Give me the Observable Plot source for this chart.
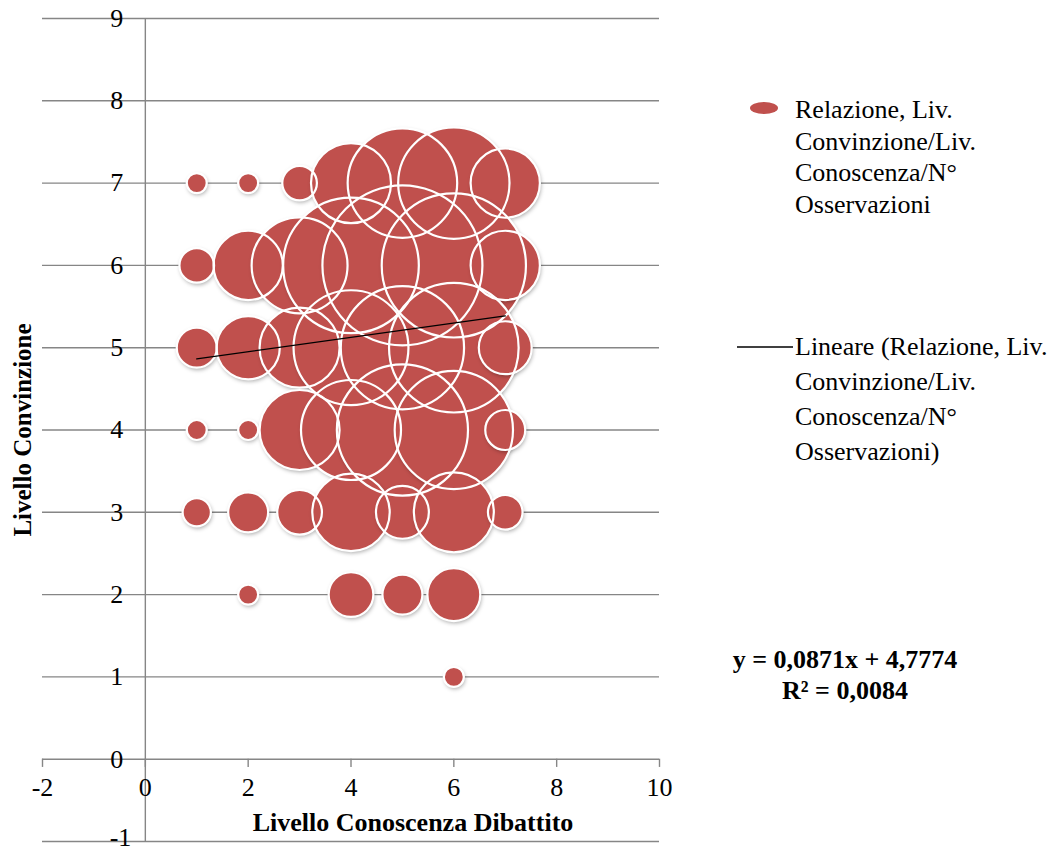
<!DOCTYPE html>
<html>
<head>
<meta charset="utf-8">
<script src="https://cdn.jsdelivr.net/npm/d3@7"></script>
<script src="https://cdn.jsdelivr.net/npm/@observablehq/plot@0.6"></script>
<style>
  html, body { margin: 0; padding: 0; background: #fff; }
  #wrap { position: relative; width: 1058px; height: 852px; font-family: "Liberation Serif", "Times New Roman", serif; color: #000; }
  #chart { position: absolute; left: 0; top: 0; }
  g[aria-label="dot"].fills circle { filter: drop-shadow(1px 2px 2px rgba(0,0,0,0.35)); }
  .leg { position: absolute; font-size: 26px; white-space: nowrap; }
  .eq { position: absolute; font-size: 26px; font-weight: bold; text-align: center; white-space: nowrap; }
</style>
</head>
<body>
<div id="wrap">
  <div id="chart"></div>
  <svg style="position:absolute;left:748px;top:100px" width="32" height="16"><ellipse cx="16" cy="8" rx="14" ry="6" fill="#c0504d"/></svg>
  <div class="leg" style="left:795px;top:94px;line-height:31.5px">Relazione, Liv.<br>Convinzione/Liv.<br>Conoscenza/N°<br>Osservazioni</div>
  <svg style="position:absolute;left:737px;top:340px" width="58" height="14"><line x1="0" x2="56" y1="7" y2="7" stroke="#000" stroke-width="1.5"/></svg>
  <div class="leg" style="left:795px;top:329px;line-height:35px">Lineare (Relazione, Liv.<br>Convinzione/Liv.<br>Conoscenza/N°<br>Osservazioni)</div>
  <div class="eq" style="left:695px;top:644px;width:300px;line-height:31px">y = 0,0871x + 4,7774<br>R² = 0,0084</div>
</div>
<script>
// Livello Conoscenza (x), Livello Convinzione (y), N° osservazioni (bubble size)
const livConoscenza = [
  1, 2, 3, 4, 5, 6, 7,
  1, 2, 3, 4, 5, 6, 7,
  1, 2, 3, 4, 5, 6, 7,
  1, 2, 3, 4, 5, 6, 7,
  1, 2, 3, 4, 5, 6, 7,
  2, 4, 5, 6,
  6
];
const livConvinzione = [
  7, 7, 7, 7, 7, 7, 7,
  6, 6, 6, 6, 6, 6, 6,
  5, 5, 5, 5, 5, 5, 5,
  4, 4, 4, 4, 4, 4, 4,
  3, 3, 3, 3, 3, 3, 3,
  2, 2, 2, 2,
  1
];
const nOsservazioni = [
  1, 1, 3, 16, 30, 31, 12,
  3, 12, 23, 46, 64, 52, 12,
  4, 10, 16, 33, 38, 42, 7,
  1, 1, 16, 25, 43, 35, 4,
  2, 4, 5, 15, 7, 16, 3,
  1, 5, 4, 7,
  1
];
const xTicks = [-2, 0, 2, 4, 6, 8, 10];
const yTicks = [0, 1, 2, 3, 4, 5, 6, 7, 8, 9];
const yTickBottom = [-1];
// Trendline shown on the chart: y = 0,0871x + 4,7774 (from x = 1 to x = 7)
const trendSlope = 0.0871;
const trendIntercept = 4.7774;
const trendX = [1, 7];

const bubbles = livConoscenza.map((x, i) => ({x, y: livConvinzione[i], n: nOsservazioni[i]}));
const trend = trendX.map(x => ({x, y: trendSlope * x + trendIntercept}));
const allYTicks = yTickBottom.concat(yTicks);

const font = "Liberation Serif";
const grid = "#868686";

const plot = Plot.plot({
  width: 1058,
  height: 852,
  marginLeft: 42,
  marginRight: 399,
  marginTop: 18,
  marginBottom: 11,
  style: {fontFamily: font, background: "transparent", overflow: "visible"},
  x: {domain: [-2, 10], axis: null},
  y: {domain: [-1, 9], axis: null},
  r: {domain: [0, 64], range: [0, 80]},
  marks: [
    Plot.ruleY(allYTicks, {y: d => d, stroke: grid, strokeWidth: 1.4}),
    Plot.ruleX([0], {x: d => d, stroke: grid, strokeWidth: 1.4}),
    Plot.ruleX(xTicks, {x: d => d, y1: 0, y2: -0.1, stroke: grid, strokeWidth: 1.4}),
    Plot.dot(bubbles, {x: "x", y: "y", r: "n", fill: "#c0504d", stroke: "none", className: "fills", sort: null}),
    Plot.dot(bubbles, {x: "x", y: "y", r: "n", fill: "none", stroke: "#ffffff", strokeWidth: 2.2, sort: null}),
    Plot.line(trend, {x: "x", y: "y", stroke: "#000", strokeWidth: 1.4}),
    Plot.text(yTicks, {x: 0, y: d => d, text: d => String(d), dx: -22, textAnchor: "end", fontSize: 26, fill: "#000"}),
    Plot.text(yTickBottom, {x: 0, y: d => d, text: d => String(d), dx: -14, dy: -4, textAnchor: "end", fontSize: 26, fill: "#000"}),
    Plot.text(xTicks, {x: d => d, y: 0, text: d => String(d), dy: 28, fontSize: 26, fill: "#000"}),
    Plot.text(["Livello Conoscenza Dibattito"], {frameAnchor: "bottom", text: d => d, dx: 62, dy: -19, lineAnchor: "middle", textAnchor: "middle", fontSize: 26, fontWeight: "bold", fill: "#000"}),
    Plot.text(["Livello Convinzione"], {frameAnchor: "left", text: d => d, rotate: -90, dx: -20, dy: 0, textAnchor: "middle", lineAnchor: "middle", fontSize: 25, fontWeight: "bold", fill: "#000"})
  ]
});
document.getElementById("chart").appendChild(plot);
</script>
</body>
</html>
